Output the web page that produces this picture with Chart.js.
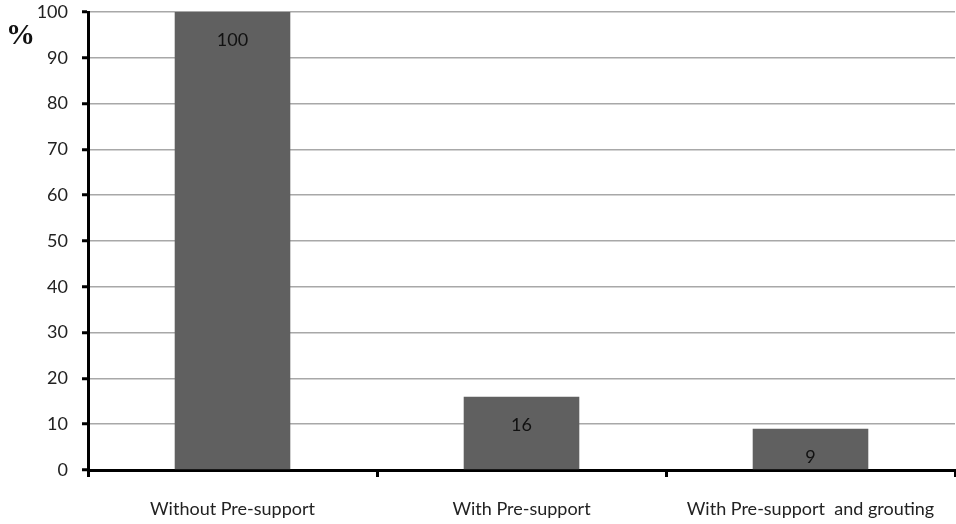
<!DOCTYPE html>
<html>
<head>
<meta charset="utf-8">
<script src="https://cdn.jsdelivr.net/npm/chart.js@4"></script>
<style>
  html, body { margin: 0; padding: 0; background: #fff; }
  #wrap { position: relative; width: 956px; height: 524px; }
  #unit { position: absolute; left: 6px; top: 18px; font: bold 29px "Liberation Serif", "DejaVu Serif", serif; color: #111; }
</style>
</head>
<body>
<div id="wrap">
  <canvas id="c" width="956" height="524"></canvas>
  <div id="unit">%</div>
</div>
<script>
// Categories and values (percent)
const categories = ['Without Pre-support', 'With Pre-support', 'With Pre-support  and grouting'];
const values = [100, 16, 9];
const yTicks = [0, 10, 20, 30, 40, 50, 60, 70, 80, 90, 100];

const FONT = 'Lato, "Open Sans", sans-serif';

// Writes each bar's value just inside its top end
const insideLabels = {
  id: 'insideLabels',
  afterDatasetsDraw(chart) {
    const ctx = chart.ctx;
    const meta = chart.getDatasetMeta(0);
    ctx.save();
    ctx.font = '18px ' + FONT;
    ctx.fillStyle = '#111';
    ctx.textAlign = 'center';
    ctx.textBaseline = 'middle';
    meta.data.forEach((bar, i) => {
      ctx.fillText(String(values[i]), bar.x, bar.y + 28);
    });
    ctx.restore();
  }
};

new Chart(document.getElementById('c'), {
  type: 'bar',
  data: {
    labels: categories,
    datasets: [{
      data: values,
      backgroundColor: '#606060',
      borderWidth: 0,
      categoryPercentage: 1,
      barPercentage: 0.4
    }]
  },
  options: {
    responsive: false,
    animation: false,
    layout: { padding: { top: 0, right: 1, left: 0, bottom: 0 } },
    plugins: { legend: { display: false }, tooltip: { enabled: false } },
    scales: {
      x: {
        grid: {
          display: true,
          drawOnChartArea: false,
          drawTicks: true,
          offset: true,
          tickLength: 7,
          tickColor: '#000',
          tickWidth: 3
        },
        border: { display: true, color: '#000', width: 3 },
        ticks: { padding: 21, color: '#222', font: { family: FONT, size: 18 }, maxRotation: 0 },
        afterFit(scale) { scale.height = 54; }
      },
      y: {
        min: 0,
        max: 100,
        afterBuildTicks(scale) { scale.ticks = yTicks.map(v => ({ value: v })); },
        grid: {
          color: '#a8a8a8',
          lineWidth: 1.5,
          drawTicks: true,
          tickLength: 6,
          tickColor: '#000',
          tickWidth: 3
        },
        border: { display: true, color: '#000', width: 3 },
        ticks: { padding: 14, color: '#222', font: { family: FONT, size: 18 } },
        afterFit(scale) { scale.width = 88; scale.paddingTop = 12; }
      }
    }
  },
  plugins: [insideLabels]
});
</script>
</body>
</html>
